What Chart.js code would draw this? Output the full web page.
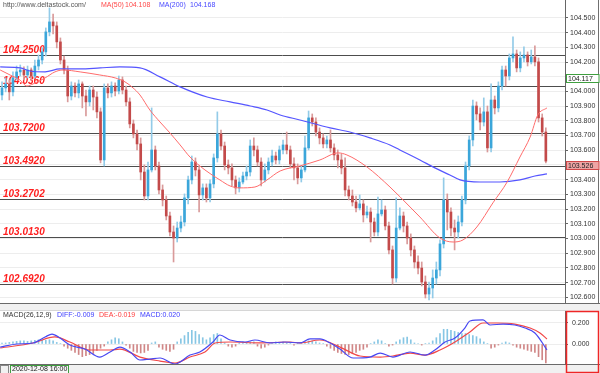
<!DOCTYPE html>
<html><head><meta charset="utf-8">
<script src="https://cdn.jsdelivr.net/npm/chart.js@4.4.0/dist/chart.umd.min.js"></script>
<style>
html,body{margin:0;padding:0;background:#fff;width:600px;height:373px;overflow:hidden}
#main{position:absolute;left:0;top:0;width:600px;height:303px}
#macd{position:absolute;left:0;top:303px;width:600px;height:70px}
</style></head><body>
<canvas id="main" width="600" height="303"></canvas>
<canvas id="macd" width="600" height="70"></canvas>
<script>
// ---- data ----
const opens = [
103.976,104.024,104.051,103.997,104.092,104.133,104.146,104.112,104.146,104.105,
104.173,104.214,104.269,104.405,104.473,104.446,104.337,104.214,104.146,103.969,
104.037,103.990,104.051,103.969,103.929,104.010,103.962,103.861,103.534,104.024,
103.990,104.037,104.003,104.078,104.010,103.929,103.779,103.711,103.643,103.452,
103.289,103.466,103.602,103.493,103.330,103.262,103.153,103.044,103.003,103.071,
103.112,103.276,103.398,103.520,103.466,103.296,103.344,103.276,103.371,103.548,
103.711,103.629,103.500,103.480,103.398,103.344,103.384,103.425,103.452,103.629,
103.602,103.520,103.398,103.466,103.520,103.561,103.534,103.602,103.636,103.602,
103.507,103.480,103.412,103.466,103.616,103.820,103.792,103.724,103.684,103.643,
103.670,103.616,103.568,103.534,103.480,103.330,103.289,103.248,103.208,103.235,
103.160,103.180,103.112,103.044,103.167,103.194,103.085,102.922,102.731,103.071,
103.153,103.085,103.003,102.922,102.840,102.799,102.704,102.622,102.663,102.731,
102.786,102.963,103.262,103.180,103.071,103.044,103.112,103.262,103.493,103.670,
103.901,103.847,103.792,103.861,103.616,103.942,103.888,104.037,104.146,104.105,
104.228,104.255,104.160,104.228,104.248,104.201,104.235,104.201,103.820,103.724];
const highs = [
104.065,104.092,104.078,104.133,104.173,104.180,104.167,104.173,104.160,104.214,
104.248,104.296,104.432,104.568,104.527,104.473,104.364,104.241,104.173,104.065,
104.058,104.078,104.065,104.010,104.037,104.037,103.997,103.888,104.051,104.051,
104.065,104.058,104.105,104.099,104.037,103.956,103.806,103.738,103.684,103.500,
103.520,103.888,103.629,103.520,103.364,103.289,103.180,103.085,103.112,103.153,
103.303,103.425,103.561,103.548,103.493,103.371,103.371,103.398,103.575,103.861,
103.738,103.656,103.534,103.507,103.425,103.412,103.452,103.493,103.670,103.684,
103.629,103.548,103.507,103.548,103.602,103.588,103.629,103.670,103.724,103.629,
103.548,103.507,103.493,103.697,103.867,103.847,103.820,103.752,103.711,103.697,
103.738,103.643,103.602,103.575,103.548,103.357,103.330,103.289,103.296,103.262,
103.221,103.208,103.139,103.282,103.262,103.221,103.112,102.949,103.276,103.208,
103.180,103.112,103.031,102.949,102.881,102.840,102.745,102.704,102.786,102.840,
102.990,103.412,103.303,103.208,103.126,103.153,103.289,103.520,103.697,103.942,
103.929,103.888,103.956,103.901,104.051,103.969,104.065,104.173,104.173,104.255,
104.371,104.282,104.269,104.303,104.269,104.282,104.310,104.228,103.847,103.752];
const lows = [
103.942,103.997,103.942,103.969,104.078,104.105,104.078,104.092,104.078,104.092,
104.146,104.187,104.241,104.378,104.391,104.296,104.187,104.119,103.929,103.942,
103.962,103.956,103.888,103.833,103.901,103.874,103.820,103.514,103.493,103.956,
103.962,103.969,103.983,103.983,103.901,103.752,103.684,103.602,103.398,103.262,
103.262,103.452,103.466,103.303,103.221,103.126,103.017,102.840,102.976,103.044,
103.085,103.235,103.371,103.425,103.180,103.262,103.248,103.248,103.344,103.520,
103.602,103.466,103.439,103.357,103.303,103.316,103.371,103.398,103.425,103.561,
103.493,103.357,103.384,103.439,103.493,103.507,103.507,103.575,103.575,103.480,
103.398,103.371,103.384,103.452,103.602,103.765,103.697,103.643,103.616,103.616,
103.588,103.534,103.480,103.439,103.289,103.262,103.221,103.180,103.194,103.112,
103.139,102.976,103.017,103.017,103.153,103.058,102.895,102.690,102.704,103.058,
103.044,102.963,102.881,102.799,102.758,102.677,102.595,102.582,102.595,102.690,
102.745,102.935,103.058,103.017,102.922,103.003,103.085,103.235,103.466,103.629,
103.806,103.738,103.765,103.588,103.588,103.847,103.861,104.010,104.037,104.078,
104.201,104.133,104.133,104.201,104.173,104.187,104.173,103.792,103.697,103.514];
const closes = [
104.024,104.051,103.997,104.092,104.133,104.146,104.112,104.146,104.105,104.173,
104.214,104.269,104.405,104.473,104.446,104.337,104.214,104.146,103.969,104.037,
103.990,104.051,103.969,103.929,104.010,103.962,103.861,103.534,104.024,103.990,
104.037,104.003,104.078,104.010,103.929,103.779,103.711,103.643,103.452,103.289,
103.466,103.602,103.493,103.330,103.262,103.153,103.044,103.003,103.071,103.112,
103.276,103.398,103.520,103.466,103.296,103.344,103.276,103.371,103.548,103.711,
103.629,103.500,103.480,103.398,103.344,103.384,103.425,103.452,103.629,103.602,
103.520,103.398,103.466,103.520,103.561,103.534,103.602,103.636,103.602,103.507,
103.480,103.412,103.466,103.616,103.820,103.792,103.724,103.684,103.643,103.670,
103.616,103.568,103.534,103.480,103.330,103.289,103.248,103.208,103.235,103.160,
103.180,103.112,103.044,103.167,103.194,103.085,102.922,102.731,103.071,103.153,
103.085,103.003,102.922,102.840,102.799,102.704,102.622,102.663,102.731,102.786,
102.963,103.262,103.180,103.071,103.044,103.112,103.262,103.493,103.670,103.901,
103.847,103.792,103.861,103.616,103.942,103.888,104.037,104.146,104.105,104.228,
104.255,104.160,104.228,104.248,104.201,104.235,104.201,103.820,103.724,103.526];

const ma50Idx = [-0.5,2.2,4.9,6.8,8.5,11.8,14.5,16.7,21.4,26.8,31,33.7,35.9,37.8,40.5,43.3,46,48.8,51.5,55.6,59.7,62.5,65.2,69.3,72.6,76.2,81.6,87.1,92.1,94.5,100,106.3,111.8,114.5,120,123.6,126.3,130.1,134.5,138.4,141.9,144.7,146.8,149.3];
const ma50Val = [104.146,104.112,104.078,104.037,104.051,104.092,104.133,104.146,104.133,104.112,104.092,104.065,104.024,103.976,103.874,103.792,103.718,103.636,103.554,103.466,103.398,103.357,103.344,103.350,103.398,103.459,103.493,103.534,103.582,103.568,103.486,103.350,103.214,103.146,103.003,102.976,102.990,103.078,103.242,103.384,103.554,103.690,103.840,103.888];
const ma200Idx = [-0.5,5,7.7,11.8,15.9,21.4,26.9,32.3,37.8,43.3,48.8,56.2,62.5,68,72.6,76.2,81.6,89.9,95.3,100.8,106.3,109,111.8,114.5,118.6,122.7,125.5,131,136.4,141.9,146,149.3];
const ma200Val = [104.167,104.160,104.139,104.133,104.153,104.153,104.160,104.167,104.160,104.099,104.031,103.962,103.929,103.901,103.874,103.840,103.806,103.752,103.724,103.684,103.636,103.602,103.568,103.534,103.480,103.432,103.398,103.384,103.384,103.398,103.425,103.439];

const levelValues = [104.25,104.036,103.72,103.492,103.2702,103.013,102.692];
const levelLabels = ['104.2500','104.0360','103.7200','103.4920','103.2702','103.0130','102.6920'];
const priceTicks = [102.6,102.7,102.8,102.9,103.0,103.1,103.2,103.3,103.4,103.5,103.6,103.7,103.8,103.9,104.0,104.1,104.2,104.3,104.4,104.5];
const lastPrices = [104.117,103.526];

const macdHist = [
0.01,0.01,0.015,0.02,0.025,0.03,0.03,0.025,0.03,0.035,
0.04,0.04,0.035,0.04,0.03,0.015,0.005,-0.02,-0.04,-0.06,
-0.08,-0.1,-0.12,-0.11,-0.1,-0.09,-0.06,-0.04,-0.02,0.02,
0.04,0.06,0.05,0.02,-0.01,-0.04,-0.07,-0.08,-0.085,-0.08,
-0.06,0.01,0.02,-0.03,-0.05,-0.06,-0.07,-0.05,0.02,0.05,
0.08,0.11,0.13,0.12,0.09,0.06,0.04,0.06,0.09,0.1,
0.05,0.01,-0.02,-0.03,-0.02,0.01,0.02,0.01,0.02,0.02,
-0.02,-0.04,-0.03,-0.01,0.01,0.02,0.01,0.02,0.01,0.005,
-0.01,0.01,0.01,0.02,0.03,0.03,0.02,0.01,0.005,-0.02,
-0.04,-0.06,-0.08,-0.09,-0.1,-0.1,-0.09,-0.08,-0.06,-0.05,
-0.03,0.005,0.02,0.04,0.03,0.005,-0.02,-0.01,0.02,0.04,
0.06,0.065,0.04,0.01,0.005,-0.01,0.005,0.01,0.03,0.06,
0.1,0.14,0.14,0.13,0.12,0.11,0.1,0.1,0.09,0.08,
0.07,0.05,0.02,0.005,-0.04,-0.03,-0.01,0.01,0.02,0.01,
-0.01,-0.03,-0.04,-0.05,-0.06,-0.07,-0.08,-0.12,-0.15,-0.18];
const diffIdx = [-0.5,4.1,8.5,11.8,13.7,15.9,18.6,22.7,26.8,29.6,32.3,35.1,37.8,40.5,43.3,47.4,51.5,54.2,57.8,59.7,62.5,66.6,69.3,73.4,77.5,81.6,84.4,87.1,89.9,92.6,96.2,100.8,103.6,107.1,111.8,115.9,118.6,121.4,124.1,126.8,128.2,131.8,133.7,137.3,140.5,143.3,146,148.8,149.3];
const diffVal = [-0.029,0.000,0.010,0.067,0.095,0.057,-0.010,-0.048,-0.124,-0.076,-0.029,-0.076,-0.152,-0.143,-0.133,-0.190,-0.105,-0.076,0.019,0.086,0.038,0.019,0.038,0.010,0.019,0.010,0.048,0.048,0.010,-0.048,-0.133,-0.124,-0.086,-0.124,-0.076,-0.105,-0.057,0.019,0.057,0.152,0.219,0.229,0.181,0.190,0.181,0.152,0.105,-0.029,-0.057];
const deaIdx = [-0.5,8.5,14.5,18.6,24.1,29.6,32.3,37.8,43.3,47.4,51.5,55.6,58.4,62.5,70.7,78.9,81.6,87.1,92.6,98.1,103.6,107.1,111.8,115.9,120,124.1,128.2,131.8,135.6,140.5,144.7,147.4,149.3];
const deaVal = [-0.038,0.010,0.067,0.019,-0.057,-0.057,-0.048,-0.124,-0.162,-0.181,-0.124,-0.076,0.010,0.019,0.010,0.019,0.010,0.038,-0.029,-0.114,-0.124,-0.114,-0.086,-0.105,-0.057,0.019,0.114,0.200,0.200,0.190,0.152,0.105,0.048];
const macdTicks = [0, 0.2];

// ---- drawing ----
const X_MIN = -0.55, X_MAX = 154.25;
const FONT = '"Liberation Sans", Arial, sans-serif';
const idx = closes.map((_, i) => i);
const isUp = i => closes[i] >= opens[i];
const pts = (xs, ys) => xs.map((x, k) => ({x: x, y: ys[k]}));

const levelsPlugin = {
  id: 'levels',
  beforeDatasetsDraw(chart) {
    const {ctx, chartArea: a, scales: {y}} = chart;
    ctx.save();
    ctx.strokeStyle = '#4d4d4d'; ctx.lineWidth = 1;
    ctx.font = 'italic bold 10px ' + FONT;
    ctx.fillStyle = '#ff1e1e';
    ctx.textBaseline = 'alphabetic';
    levelValues.forEach((v, k) => {
      const py = Math.round(y.getPixelForValue(v)) + 0.5;
      ctx.beginPath(); ctx.moveTo(a.left, py); ctx.lineTo(a.right, py); ctx.stroke();
      ctx.fillText(levelLabels[k], 3, py - 2.5);
    });
    ctx.restore();
  },
  afterDraw(chart) {
    const {ctx, chartArea: a, scales: {y}} = chart;
    ctx.save();
    // right axis panel edge
    ctx.strokeStyle = '#707070'; ctx.lineWidth = 1;
    ctx.beginPath(); ctx.moveTo(598.5, 0); ctx.lineTo(598.5, a.bottom); ctx.stroke();
    // header
    ctx.font = '7px ' + FONT; ctx.textBaseline = 'middle';
    ctx.fillStyle = '#555'; ctx.fillText('http://www.deltastock.com/', 3, 5.5);
    ctx.fillStyle = '#ff4848'; ctx.fillText('MA(50)', 101, 5.5); ctx.fillText('104.108', 125, 5.5);
    ctx.fillStyle = '#4848ff'; ctx.fillText('MA(200)', 159, 5.5); ctx.fillText('104.168', 190, 5.5);
    // last price boxes
    const styles = [{fill: '#ffffff', stroke: '#3f9f3f'}, {fill: '#eea4a4', stroke: '#d04848'}];
    lastPrices.forEach((v, k) => {
      const top = Math.round(y.getPixelForValue(v)) + 0.5;
      ctx.fillStyle = styles[k].fill; ctx.strokeStyle = styles[k].stroke;
      ctx.fillRect(566, top, 33, 8); ctx.strokeRect(566.5, top, 32.5, 8);
      ctx.fillStyle = '#222'; ctx.fillText(v.toFixed(3), 568, top + 4.5);
    });
    ctx.restore();
  }
};

new Chart(document.getElementById('main'), {
  type: 'bar',
  data: {datasets: [
    {type: 'line', data: pts(ma50Idx, ma50Val), borderColor: '#ff6b6b', borderWidth: 1, pointRadius: 0, cubicInterpolationMode: 'monotone', order: 0},
    {type: 'line', data: pts(ma200Idx, ma200Val), borderColor: '#5555ff', borderWidth: 1.2, pointRadius: 0, cubicInterpolationMode: 'monotone', order: 0},
    {type: 'bar', data: idx.map(i => ({x: i, y: [opens[i], closes[i]]})), backgroundColor: idx.map(i => isUp(i) ? '#3ba6da' : '#c34a4a'), barThickness: 2, minBarLength: 1, grouped: false, order: 1},
    {type: 'bar', data: idx.map(i => ({x: i, y: [lows[i], highs[i]]})), backgroundColor: idx.map(i => isUp(i) ? '#93cbe8' : '#d99a9a'), barThickness: 1, grouped: false, order: 2}
  ]},
  options: {
    responsive: false, animation: false, devicePixelRatio: 1, events: [],
    layout: {padding: 0},
    plugins: {legend: {display: false}, tooltip: {enabled: false}},
    scales: {
      x: {type: 'linear', min: X_MIN, max: X_MAX, display: false, offset: false},
      y: {
        position: 'right', min: 102.561, max: 104.622,
        afterBuildTicks: s => { s.ticks = priceTicks.map(v => ({value: v})); },
        afterFit: s => { s.width = 35; s.paddingTop = 0; s.paddingBottom = 0; },
        ticks: {autoSkip: false, padding: 2, color: '#333', font: {family: FONT, size: 7}, callback: v => Number(v).toFixed(3)},
        grid: {color: '#ededed', tickColor: '#666', tickLength: 3},
        border: {color: '#666'}
      }
    }
  },
  plugins: [levelsPlugin]
});

const macdPlugin = {
  id: 'macdDeco',
  beforeDraw(chart) {
    const {ctx} = chart;
    ctx.save();
    ctx.fillStyle = '#f1f1f1';
    ctx.fillRect(0, 0, 600, 8);
    ctx.fillRect(0, 61, 600, 9);
    ctx.strokeStyle = '#6a6a6a'; ctx.lineWidth = 1;
    ctx.beginPath(); ctx.moveTo(0, 0.5); ctx.lineTo(600, 0.5); ctx.stroke();
    ctx.beginPath(); ctx.moveTo(0, 61.5); ctx.lineTo(600, 61.5); ctx.stroke();
    ctx.strokeStyle = '#d6d6d6';
    ctx.beginPath(); ctx.moveTo(0, 7.5); ctx.lineTo(566, 7.5); ctx.stroke();
    ctx.restore();
  },
  afterDraw(chart) {
    const {ctx} = chart;
    ctx.save();
    ctx.font = '7px ' + FONT; ctx.textBaseline = 'middle';
    ctx.fillStyle = '#333'; ctx.fillText('MACD(26,12,9)', 3, 12.5);
    ctx.fillStyle = '#3b3bff'; ctx.fillText('DIFF:-0.009', 57, 12.5);
    ctx.fillStyle = '#ff3b3b'; ctx.fillText('DEA:-0.019', 99, 12.5);
    ctx.fillStyle = '#3b3bff'; ctx.fillText('MACD:0.020', 140, 12.5);
    // date box
    ctx.strokeStyle = '#888'; ctx.strokeRect(0.5, 62.5, 8, 8);
    ctx.fillStyle = '#f7f7f7'; ctx.fillRect(10, 62, 58, 8);
    ctx.strokeStyle = '#3f9f3f'; ctx.strokeRect(10.5, 62.5, 58, 8);
    ctx.fillStyle = '#222'; ctx.fillText('2020-12-08 16:00', 12, 66.5);
    // selected axis box
    ctx.strokeStyle = '#ee2626'; ctx.lineWidth = 1.5;
    ctx.strokeRect(566.5, 8.5, 32, 61);
    ctx.restore();
  }
};

new Chart(document.getElementById('macd'), {
  type: 'bar',
  data: {datasets: [
    {type: 'line', data: pts(diffIdx, diffVal), borderColor: '#4848f2', borderWidth: 1.2, pointRadius: 0, cubicInterpolationMode: 'monotone', order: 0},
    {type: 'line', data: pts(deaIdx, deaVal), borderColor: '#f24848', borderWidth: 1.2, pointRadius: 0, cubicInterpolationMode: 'monotone', order: 0},
    {type: 'bar', data: idx.map(i => ({x: i, y: macdHist[i]})), backgroundColor: idx.map(i => macdHist[i] >= 0 ? '#87c6e4' : '#d08686'), barThickness: 1, grouped: false, order: 1}
  ]},
  options: {
    responsive: false, animation: false, devicePixelRatio: 1, events: [],
    layout: {padding: {top: 8, bottom: 9, left: 0, right: 0}},
    plugins: {legend: {display: false}, tooltip: {enabled: false}},
    scales: {
      x: {type: 'linear', min: X_MIN, max: X_MAX, display: false, offset: false},
      y: {
        position: 'right', min: -0.19, max: 0.314,
        afterBuildTicks: s => { s.ticks = macdTicks.map(v => ({value: v})); },
        afterFit: s => { s.width = 35; s.paddingTop = 0; s.paddingBottom = 0; },
        ticks: {autoSkip: false, padding: 4, color: '#333', font: {family: FONT, size: 7}, callback: v => Number(v).toFixed(3)},
        grid: {color: '#ededed', tickColor: '#666', tickLength: 3},
        border: {color: '#666'}
      }
    }
  },
  plugins: [macdPlugin]
});
</script></body></html>
